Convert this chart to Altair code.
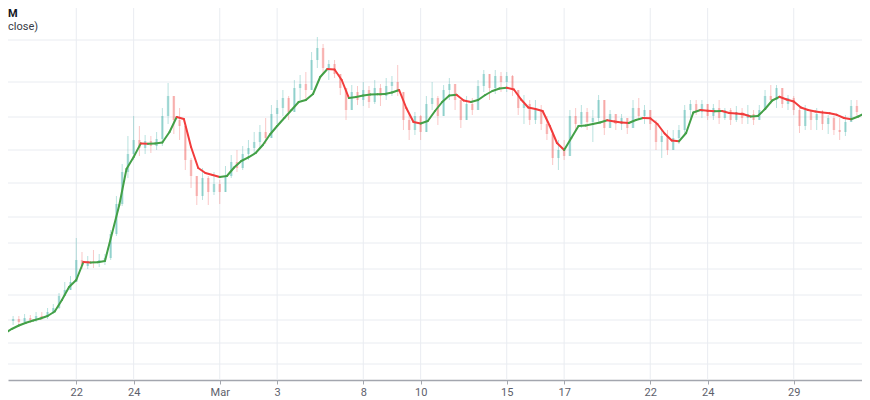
import altair as alt
import pandas as pd

# ---------------- data ----------------
# x axis: trading-day index (0 = Feb 22, 2021); weekends are skipped
tick_days = [0, 2, 5, 7, 10, 12, 15, 17, 20, 22, 25]
tick_labels = ["22", "24", "Mar", "3", "8", "10", "15", "17", "22", "24", "29"]

# horizontal grid lines (price levels, labels not visible in the crop)
grid_prices = [200, 179, 161.5, 145, 128.5, 111.5, 98.5, 85.5, 72.5, 60, 48.5, 38]

title_line1 = "M"
title_line2 = "close)"

# candles: 5 bars per trading day, first bar = last bar of Feb 17
BARS_PER_DAY = 5
bar_start = -2.2
open0 = 59.5
close = [
    60.5,
    59, 61, 60, 62, 61.5,
    64, 66, 72, 75, 79,
    90, 87, 89.5, 88.5, 90,
    91, 103, 118, 134, 143,
    150, 146, 149.5, 147, 150.5,
    162, 172, 160, 157, 140,
    132, 122, 131, 124, 128,
    124, 132, 139, 136, 143,
    146, 149, 154, 151, 163,
    166, 171, 164, 176, 178,
    175, 190, 196, 186, 188,
    183, 176, 165, 174, 170,
    175, 169, 176, 172, 177,
    179, 174, 160, 155, 162,
    154, 168, 171, 162, 175,
    178, 170, 160, 168, 165,
    177, 183, 176, 182, 179,
    182, 175, 166, 168, 160,
    165, 158, 153, 141, 145,
    142, 162, 158, 164, 159,
    161, 170, 156, 163, 158,
    161, 156, 166, 162, 165,
    158, 149, 152, 145, 151,
    155, 165, 168, 164, 168,
    162, 166, 161, 165, 160,
    164, 161, 163, 160, 165,
    172, 170, 176, 168, 171,
    165, 157, 165, 160, 163,
    158, 161, 155, 154, 159,
    167, 164,
]
high = [
    62,
    62, 63, 62.5, 64, 64,
    66, 68, 73.5, 79, 82,
    101, 94, 92, 95, 93,
    93, 105, 122, 138, 152,
    162, 157, 152.5, 152, 154,
    166, 178.5, 172, 166, 152,
    141, 132, 136, 132, 134,
    130, 137, 142.5, 145, 147,
    150, 154, 157.5, 161, 167.5,
    170, 175, 172, 180, 182.5,
    184, 194, 201.5, 198, 190,
    190, 183, 175, 177.5, 177,
    179, 177, 180, 178, 181,
    182, 187.5, 172, 163, 164,
    162.5, 172, 179, 172, 177.5,
    181, 178, 170, 172, 171,
    180, 185, 182, 185, 184,
    184, 182.5, 175, 172.5, 170,
    170, 167.5, 162, 152, 150,
    150, 165, 166, 167.5, 166,
    165, 172.5, 170, 165, 163,
    163, 161, 170, 171, 167.5,
    165, 160, 155, 155, 155,
    157.5, 167.5, 170, 170, 170,
    167.5, 168, 170, 166, 166,
    167, 166, 167.5, 165, 167.5,
    175, 177.5, 177.5, 175, 172.5,
    172, 167, 167.5, 165, 166,
    165, 162.5, 162, 161, 162.5,
    170, 170,
]
low = [
    57.5,
    57.5, 58, 58.5, 59, 60,
    60.5, 63, 65.5, 72, 75,
    80, 85.5, 85.5, 86, 86.5,
    87.5, 90, 102, 117, 131,
    140, 142, 143, 143.5, 145,
    147, 158, 153, 150, 135,
    126, 117.5, 120, 117.5, 122.5,
    118, 124, 131, 134, 135,
    140, 143, 146, 148, 153,
    158, 162, 160, 165, 170,
    170, 178, 186, 183, 180,
    181, 172.5, 160, 165, 167.5,
    167, 166, 168, 167, 170,
    172, 172, 155, 150, 152.5,
    150, 155, 165, 157.5, 163,
    170, 165, 156, 160, 162.5,
    170, 174, 170, 173, 174,
    174, 172, 162.5, 158, 157.5,
    158, 155, 150, 137.5, 135,
    140, 143, 155, 156, 155,
    149, 158, 152.5, 156, 155,
    155, 153, 157, 160, 158,
    155, 145, 141, 142.5, 145,
    148, 153, 161, 162.5, 161,
    160, 160, 158, 160, 157.5,
    159, 158, 158, 157.5, 160,
    165, 168, 166, 166, 165,
    162.5, 153.5, 155, 155, 155,
    155, 153, 152.5, 150, 152,
    159, 162,
]

# Hull moving average, 4 samples per trading day
HULL_PER_DAY = 4
hull_start = -2.5
hull = [
    53.25, 55.5,
    57.25, 58.65, 59.75, 60.75,
    62.0, 64.25, 70.0, 76.5,
    80.0, 89.0, 88.7, 88.85,
    89.5, 103.5, 117.5, 135.5,
    141.5, 148.3, 148.1, 148.3,
    148.75, 154.0, 161.5, 160.5,
    146.5, 136.0, 133.5, 132.5,
    131.5, 132.0, 136.25, 139.5,
    141.35, 143.5, 147.5, 152.75,
    157.0, 161.0, 165.0, 169.0,
    170.0, 173.0, 181.5, 185.5,
    185.25, 180.0, 171.0, 171.5,
    172.25, 172.75, 172.85, 173.0,
    173.75, 175.0, 166.0, 159.0,
    158.25, 159.5, 164.5, 169.0,
    172.25, 172.6, 169.75, 169.0,
    170.0, 172.5, 174.5, 175.75,
    176.1, 175.25, 170.25, 166.25,
    165.5, 164.5, 157.0, 148.5,
    145.0, 151.0, 157.0, 157.25,
    158.0, 158.75, 159.85, 159.25,
    158.75, 158.5, 160.0, 161.0,
    160.85, 158.0, 153.25, 149.75,
    149.35, 153.5, 163.75, 165.0,
    164.6, 164.4, 164.5, 163.5,
    163.25, 162.9, 161.75, 162.0,
    165.5, 169.75, 171.6, 170.25,
    169.25, 166.25, 165.0, 164.25,
    163.75, 163.4, 162.6, 161.0,
    160.4, 161.75, 163.5, 164.5,
]

# ---------------- tables ----------------
rows = []
prev = open0
for i, c in enumerate(close):
    o = prev
    rows.append({
        "t": bar_start + i / BARS_PER_DAY,
        "o": o, "c": c,
        "h": max(high[i], o, c), "l": min(low[i], o, c),
        "dir": "up" if c >= o else "down",
    })
    prev = c
candles = pd.DataFrame(rows)

seg = []
for i in range(len(hull) - 1):
    seg.append({
        "t": hull_start + i / HULL_PER_DAY,
        "t2": hull_start + (i + 1) / HULL_PER_DAY,
        "p": hull[i], "p2": hull[i + 1],
        "dir": "up" if hull[i + 1] >= hull[i] else "down",
    })
segs = pd.DataFrame(seg)

# ---------------- chart ----------------
W, H = 854, 372
x_dom = [(8 - 72) / 29.04, (862 - 72) / 29.04]
y_dom = [30, 216]
GRID = "#e9ecf1"

label_expr = "[{}][indexof([{}], datum.value)]".format(
    ",".join("'%s'" % s for s in tick_labels), ",".join(str(v) for v in tick_days))

x_scale = alt.Scale(domain=x_dom, nice=False, zero=False)
y_scale = alt.Scale(domain=y_dom, nice=False, zero=False)
x_axis = alt.Axis(values=tick_days, labelExpr=label_expr, title=None, grid=False,
                  domainColor="#a3a6ae", domainWidth=1.5, tickColor="#a3a6ae", tickSize=4,
                  labelColor="#5d606b", labelFont="Roboto", labelFontSize=11,
                  labelPadding=2, labelFlush=False)

def X(field):
    return alt.X(field, scale=x_scale, axis=x_axis)

def Y(field):
    return alt.Y(field, scale=y_scale, axis=None)

hgrid = alt.Chart(pd.DataFrame({"p": grid_prices})).mark_rule(
    color=GRID, strokeWidth=1).encode(y=Y("p:Q"))
vgrid = alt.Chart(pd.DataFrame({"t": tick_days})).mark_rule(
    color=GRID, strokeWidth=1).encode(x=X("t:Q"))

cand_color = alt.Color("dir:N", scale=alt.Scale(domain=["up", "down"],
                                                 range=["#26a69a", "#ef5350"]), legend=None)

wicks = alt.Chart(candles).mark_rule(clip=True, strokeWidth=1, opacity=0.32).encode(
    x=X("t:Q"), y=Y("l:Q"), y2="h:Q", color=cand_color)
bodies = alt.Chart(candles).mark_bar(clip=True, size=2.5, opacity=0.32).encode(
    x=X("t:Q"), y=Y("o:Q"), y2="c:Q", color=cand_color)

hull_line = alt.Chart(segs).mark_rule(clip=True, strokeWidth=2, strokeCap="round").encode(
    x=X("t:Q"), x2="t2:Q", y=Y("p:Q"), y2="p2:Q",
    color=alt.Color("dir:N", scale=alt.Scale(domain=["up", "down"],
                                             range=["#43a047", "#f23b3b"]), legend=None))

titles = pd.DataFrame({"label": [title_line1, title_line2], "row": [0, 1]})
t1 = alt.Chart(titles[titles.row == 0]).mark_text(
    align="left", baseline="middle", font="Roboto", fontSize=11, fontWeight="bold",
    color="#131722").encode(x=alt.value(0), y=alt.value(5.5), text="label:N")
t2 = alt.Chart(titles[titles.row == 1]).mark_text(
    align="left", baseline="middle", font="Roboto", fontSize=11,
    color="#363a45").encode(x=alt.value(0), y=alt.value(18.5), text="label:N")

chart = alt.layer(hgrid, vgrid, wicks, bodies, hull_line, t1, t2).resolve_scale(
    color="independent").properties(
    width=W, height=H,
    autosize=alt.AutoSizeParams(type="none"),
    padding={"left": 0, "top": 0, "right": 0, "bottom": 18},
).configure_view(stroke=None)

chart.save("out.html", embed_options={"renderer": "svg", "actions": False})
